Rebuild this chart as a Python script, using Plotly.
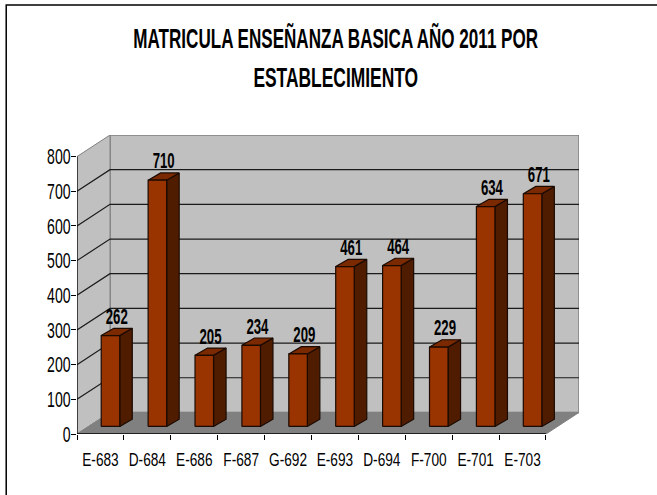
import plotly.graph_objects as go

categories = ["E-683", "D-684", "E-686", "F-687", "G-692", "E-693", "D-694", "F-700", "E-701", "E-703"]
values = [262, 710, 205, 234, 209, 461, 464, 229, 634, 671]
y_ticks = [0, 100, 200, 300, 400, 500, 600, 700, 800]
title_line_1 = "MATRICULA ENSEÑANZA BASICA AÑO 2011 POR"
title_line_2 = "ESTABLECIMIENTO"

# 3-D look, expressed in axis units
WALL_DX, WALL_DY = 0.704, 62.2
BAR_SHIFT_X, BAR_SHIFT_Y = 0.214, 21.8
BAR_DX, BAR_DY = 0.267, 21.0
BAR_W = 0.395
N = len(categories)
TOP = y_ticks[-1]
FONT = "Liberation Sans, Arial, sans-serif"

fig = go.Figure()

def poly(xs, ys, fill=None, line="#000000", width=1):
    fig.add_trace(go.Scatter(
        x=xs, y=ys, mode="lines", hoverinfo="skip", showlegend=False,
        fill="toself" if fill else None, fillcolor=fill,
        line=dict(color=line, width=width),
    ))

# walls and floor
poly([WALL_DX, N + WALL_DX, N + WALL_DX, WALL_DX, WALL_DX],
     [WALL_DY, WALL_DY, TOP + WALL_DY, TOP + WALL_DY, WALL_DY], "#c0c0c0", "#808080", 1.5)
poly([0, WALL_DX, WALL_DX, 0, 0], [0, WALL_DY, TOP + WALL_DY, TOP, 0], "#c0c0c0", "#808080", 1)
poly([0, N, N + WALL_DX, WALL_DX, 0], [0, 0, WALL_DY, WALL_DY, 0], "#808080", "#808080", 1)

# gridlines
for v in y_ticks[1:-1]:
    poly([0, WALL_DX, N + WALL_DX], [v, v + WALL_DY, v + WALL_DY], None, "#1a1a1a", 1.2)

# bars
for i, v in enumerate(values):
    x0 = i + 0.5 + BAR_SHIFT_X - BAR_W / 2
    x1 = x0 + BAR_W
    y0 = BAR_SHIFT_Y
    y1 = BAR_SHIFT_Y + v
    poly([x1, x1 + BAR_DX, x1 + BAR_DX, x1, x1],
         [y0, y0 + BAR_DY, y1 + BAR_DY, y1, y0], "#4f1c00", "#1a0a00", 1.2)
    poly([x0, x1, x1 + BAR_DX, x0 + BAR_DX, x0],
         [y1, y1, y1 + BAR_DY, y1 + BAR_DY, y1], "#7a2900", "#1a0a00", 1.2)
    poly([x0, x1, x1, x0, x0], [y0, y0, y1, y1, y0], "#993300", "#1a0a00", 1.2)

# front axes
poly([0, N], [0, 0], None, "#000000", 1.5)
poly([0, 0], [0, TOP], None, "#000000", 1.2)

# value labels
fig.add_trace(go.Scatter(
    x=[i + 0.5 + BAR_SHIFT_X + BAR_DX / 2 for i in range(N)],
    y=[v + BAR_SHIFT_Y + BAR_DY - 3 for v in values],
    text=[str(v) for v in values],
    mode="text", textposition="top center", hoverinfo="skip", showlegend=False,
    textfont=dict(family=FONT, size=22, color="#000000", weight="bold"),
    cliponaxis=False,
))

fig.update_layout(
    width=657, height=495,
    autosize=False,
    margin=dict(l=76.7, r=78.3, t=134.5, b=60.7, pad=0),
    paper_bgcolor="#ffffff", plot_bgcolor="#ffffff",
    title=dict(
        text=title_line_1, x=0.511, xanchor="center", y=0.923, yanchor="middle",
        font=dict(family=FONT, size=27, color="#000000", weight="bold"),
    ),
    annotations=[dict(
        text=title_line_2, xref="paper", yref="paper", x=0.516, y=1.19,
        xanchor="center", yanchor="middle", showarrow=False,
        font=dict(family=FONT, size=27, color="#000000", weight="bold"),
    )],
    xaxis=dict(
        range=[0, N + WALL_DX], showgrid=False, zeroline=False, showline=False,
        tickmode="array", tickvals=[i + 0.5 for i in range(N)], ticktext=categories,
        tickangle=0, ticklabelstandoff=12,
        ticks="", ticklen=0, tickfont=dict(family=FONT, size=19, color="#000000"),
        minor=dict(tick0=0, dtick=1, ticks="outside", ticklen=5, tickcolor="#000000", tickwidth=1, showgrid=False),
    ),
    yaxis=dict(
        range=[0, TOP + WALL_DY], showgrid=False, zeroline=False, showline=False,
        tickmode="array", tickvals=y_ticks, ticks="outside", ticklen=5,
        ticklabelstandoff=-4,
        tickcolor="#000000", tickfont=dict(family=FONT, size=22, color="#000000"),
    ),
    shapes=[dict(type="rect", xref="paper", yref="paper", layer="below",
                 x0=-0.141, x1=1.5, y0=-0.6, y1=1.435,
                 line=dict(color="#000000", width=1.5))],
)

# The reference's text is horizontally compressed; no condensed face is installed,
# so each label keeps its real text and is narrowed about its own anchor point.
post = """
document.body.style.margin = '0';
var squeeze = [['.xtick text', 0.72], ['.ytick text', 0.64], ['.textpoint text', 0.60],
               ['.gtitle', 0.632], ['.annotation-text', 0.645]];
squeeze.forEach(function (pair) {
  document.querySelectorAll(pair[0]).forEach(function (t) {
    var cx = parseFloat(t.getAttribute('x')) || 0;
    var old = t.getAttribute('transform') || '';
    t.setAttribute('transform', old + ' translate(' + cx + ' 0) scale(' + pair[1] + ' 1) translate(' + (-cx) + ' 0)');
  });
});
"""
fig.write_html("out.html", post_script=post, config={"displayModeBar": False})
